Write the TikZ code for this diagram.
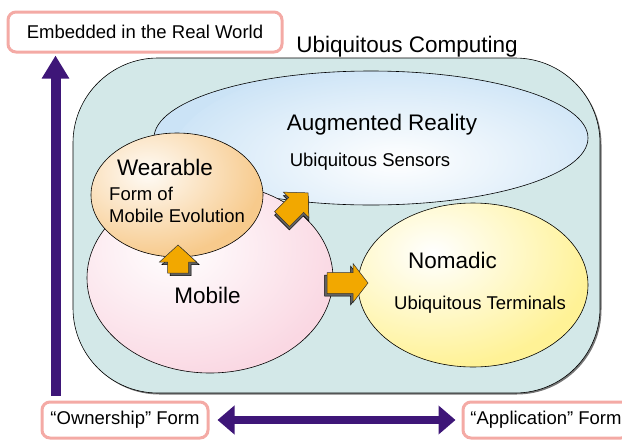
\documentclass[tikz,border=0pt]{standalone}
\usepackage{fontspec}
\setmainfont{Liberation Sans}
\usetikzlibrary{shapes.geometric,arrows.meta}

\definecolor{ubiteal}{RGB}{211,232,232}
\definecolor{augblue}{RGB}{203,227,246}
\definecolor{wearorange}{RGB}{247,202,140}
\definecolor{mobpink}{RGB}{250,216,227}
\definecolor{nomyellow}{RGB}{255,242,150}
\definecolor{tagpink}{RGB}{244,170,165}
\definecolor{deeppurple}{RGB}{62,22,120}
\definecolor{arroworange}{RGB}{242,168,0}
\definecolor{edgegray}{RGB}{118,118,118}

\tikzset{
  tagbox/.style={draw=tagpink, line width=3pt, rounded corners=8pt, fill=white,
    inner sep=0pt, font=\fontsize{18.5}{20}\selectfont},
  region/.style={ellipse, draw=black, line width=0.6pt, inner sep=0pt},
  bigtxt/.style={font=\fontsize{22.5}{24}\selectfont, anchor=base, inner sep=0pt},
  smalltxt/.style={font=\fontsize{18.5}{20}\selectfont, anchor=base, inner sep=0pt},
  purplearrow/.style={draw=deeppurple, line width=#1},
  % block arrow with a dark extruded shadow: length, head length, half head width
  pics/fatarrow/.style n args={3}{code={
    \filldraw[fill=black!62, draw=black, line width=0.5pt, shift={(-2.5,2.5)}]
      (0,-10.5) -- ({#1-#2},-10.5) -- ({#1-#2},-#3) -- (#1,0) -- ({#1-#2},#3)
      -- ({#1-#2},10.5) -- (0,10.5) -- cycle;
    \filldraw[fill=arroworange, draw=black!80, line width=0.5pt]
      (0,-10.5) -- ({#1-#2},-10.5) -- ({#1-#2},-#3) -- (#1,0) -- ({#1-#2},#3)
      -- ({#1-#2},10.5) -- (0,10.5) -- cycle;
  }}
}

\begin{document}
\begin{tikzpicture}[x=1pt, y=-1pt]
\useasboundingbox (0,0) rectangle (622,440);

% axis labels
\node[tagbox, minimum width=274pt, minimum height=40pt] (emb) at (145,32) {Embedded in the Real World};
\node[tagbox, minimum width=166pt, minimum height=36pt] (own) at (125,420) {“Ownership” Form};
\node[tagbox, minimum width=166pt, minimum height=36pt] (app) at (546,420) {“Application” Form};

% axes
\draw[purplearrow=10pt, -{Triangle[width=26pt,length=23pt]}]
  ([xshift=15pt, yshift=5pt]own.north west) -- ([xshift=49pt, yshift=-2pt]emb.south west);
\draw[purplearrow=8.5pt, {Triangle[width=28pt,length=17pt]}-{Triangle[width=28pt,length=17pt]},
  shorten <=8pt, shorten >=6pt] (own.east) -- (app.west);

% ubiquitous computing container
\fill[edgegray, rounded corners=85pt] (74.5,59.5) rectangle (601.5,394.5);
\node[draw=black, line width=0.6pt, fill=ubiteal, rounded corners=85pt,
  minimum width=527pt, minimum height=335pt] (ubi) at (336.5,225.5) {};
\node[bigtxt] (ubilabel) at (407,52) {Ubiquitous Computing};

% regions
\node[region, fill=augblue, minimum width=434pt, minimum height=134pt,
  path picture={\shade[inner color=white, outer color=augblue]
    ([shift={(35,22)}]path picture bounding box.center) ellipse [x radius=235, y radius=100];}]
  (aug) at (371,138) {};
\node[region, fill=mobpink, minimum width=246pt, minimum height=190pt,
  path picture={\shade[inner color=white, outer color=mobpink]
    ([shift={(-35,-30)}]path picture bounding box.center) ellipse [x radius=165, y radius=130];}]
  (mob) at (210,278) {};
\node[region, fill=wearorange, minimum width=172pt, minimum height=124pt,
  path picture={\shade[inner color=white!60!wearorange!20, outer color=wearorange]
    ([shift={(-30,-22)}]path picture bounding box.center) ellipse [x radius=115, y radius=85];}]
  (wear) at (177,195) {};
\node[region, fill=nomyellow, minimum width=230pt, minimum height=164pt,
  path picture={\shade[inner color=white, outer color=nomyellow]
    ([shift={(-40,-32)}]path picture bounding box.center) ellipse [x radius=160, y radius=115];}]
  (nom) at (473,285) {};

% region texts
\node[bigtxt] (augtitle) at (382,130) {Augmented Reality};
\node[smalltxt] (augsub) at (370,166) {Ubiquitous Sensors};
\node[bigtxt] (weartitle) at (165,175) {Wearable};
\node[smalltxt, anchor=base west] (wearsub1) at (109,200) {Form of};
\node[smalltxt, anchor=base west] (wearsub2) at (109,222) {Mobile Evolution};
\node[bigtxt] (mobtitle) at (207.5,303) {Mobile};
\node[bigtxt] (nomtitle) at (452.5,268) {Nomadic};
\node[smalltxt] (nomsub) at (480,309) {Ubiquitous Terminals};

% evolution arrows
\pic[rotate=90] at (178,273) {fatarrow={28}{17}{18.5}};
\pic[rotate=45] at (282,219) {fatarrow={37}{17}{18}};
\pic at (327,283) {fatarrow={41}{15}{19.5}};
\end{tikzpicture}
\end{document}
